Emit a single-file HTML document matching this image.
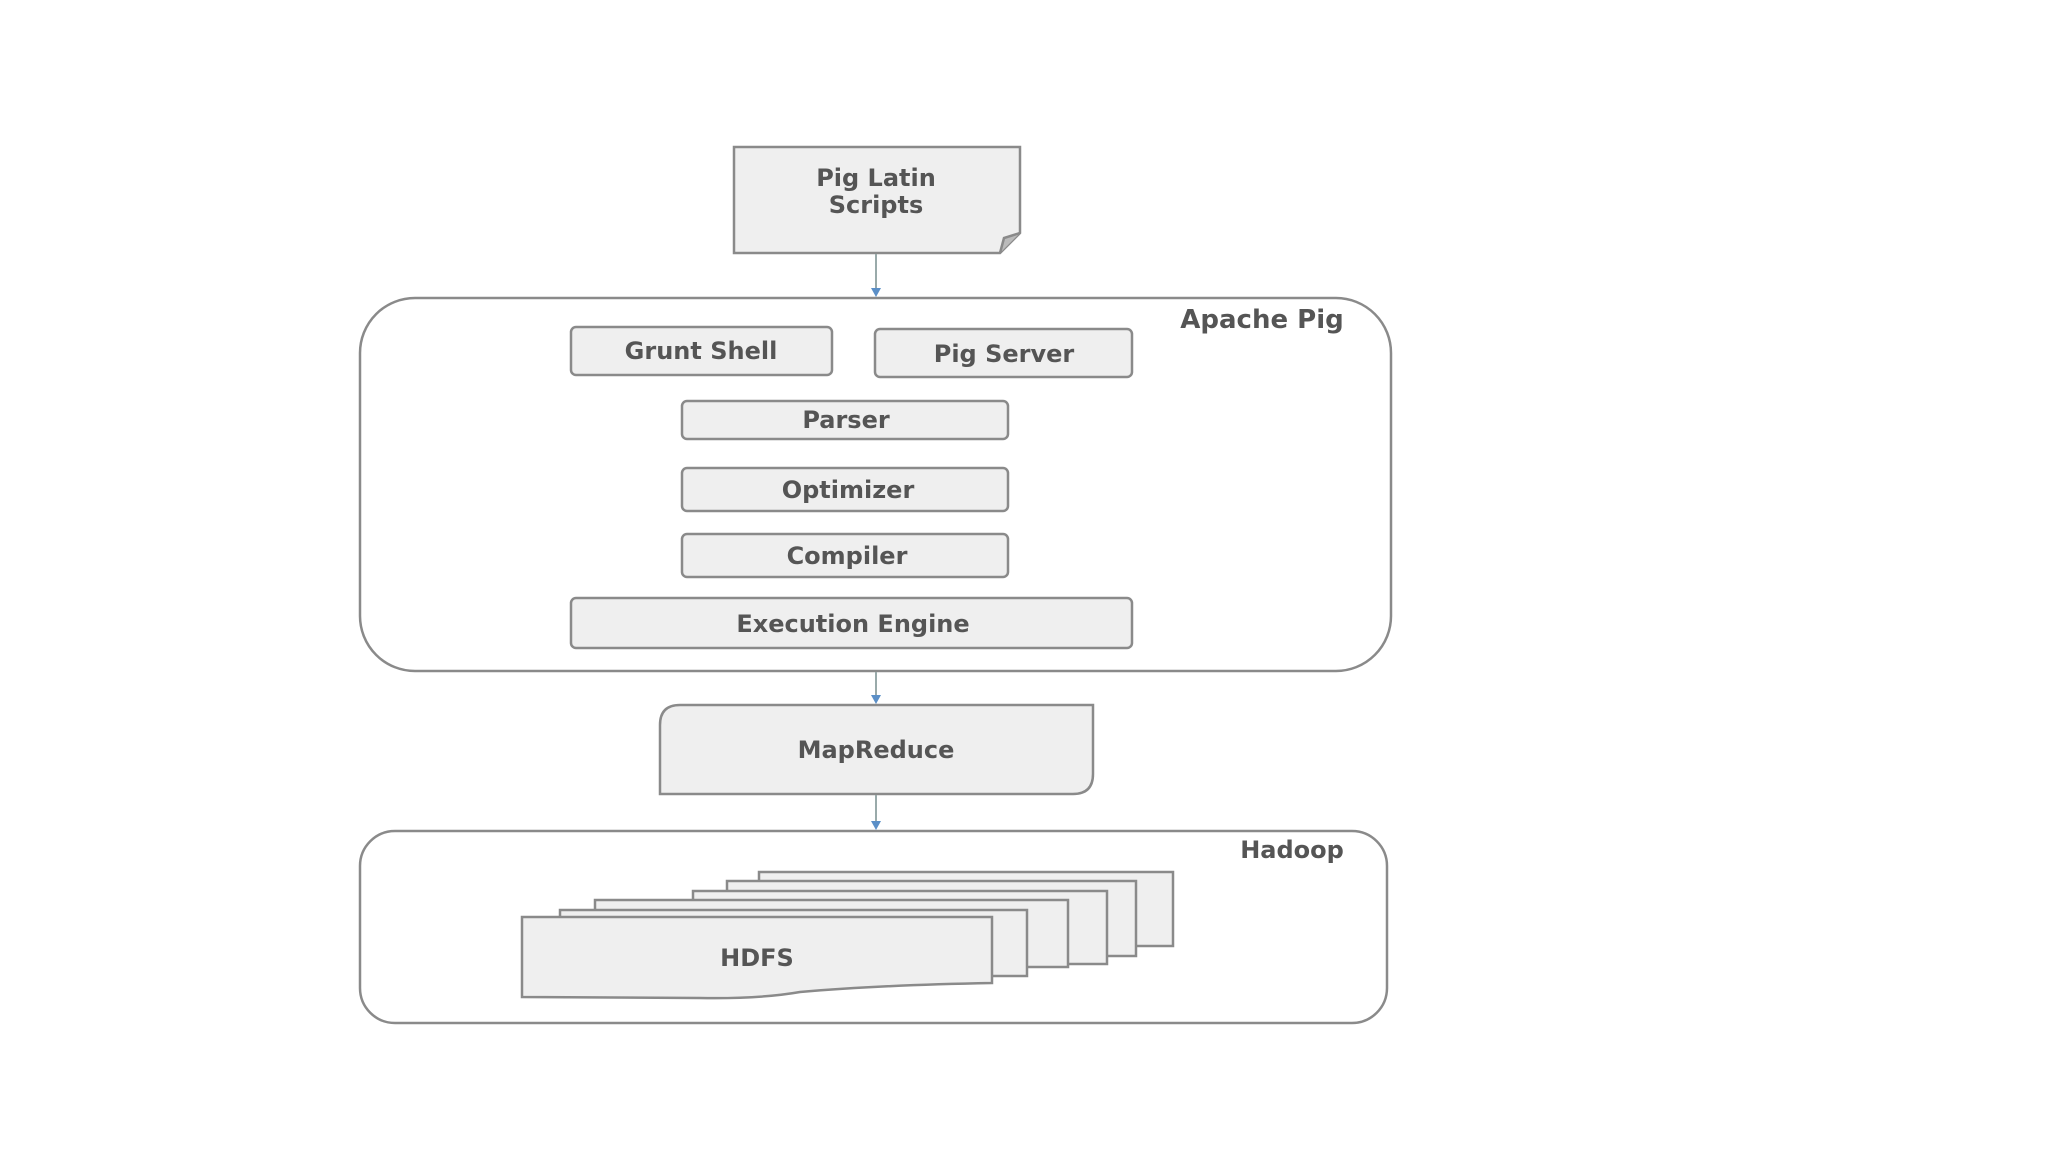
<!DOCTYPE html>
<html><head><style>
html,body{margin:0;padding:0;background:#fff;width:2048px;height:1152px;overflow:hidden}
text{font-family:"DejaVu Sans","Liberation Sans",sans-serif;font-weight:bold;fill:#555}
</style></head><body>
<svg width="2048" height="1152" viewBox="0 0 2048 1152">
<g stroke="#8a8a8a" stroke-width="2.5" fill="#efefef">
<path d="M734,147 L1020,147 L1020,233 L1000,253 L734,253 Z"/>
<path d="M1000,253 L1004,238 L1020,233" fill="#bbb"/>
<rect x="360" y="298" width="1031" height="373" rx="55" fill="#fff"/>
<rect x="571" y="327" width="261" height="48" rx="5"/>
<rect x="875" y="329" width="257" height="48" rx="5"/>
<rect x="682" y="401" width="326" height="38" rx="5"/>
<rect x="682" y="468" width="326" height="43" rx="5"/>
<rect x="682" y="534" width="326" height="43" rx="5"/>
<rect x="571" y="598" width="561" height="50" rx="5"/>
<path d="M680,705 L1093,705 L1093,774 Q1093,794 1073,794 L660,794 L660,725 Q660,705 680,705Z"/>
<rect x="360" y="831" width="1027" height="192" rx="35" fill="#fff"/>
<rect x="759" y="872" width="414" height="74"/>
<rect x="727" y="881" width="409" height="75"/>
<rect x="693" y="891" width="414" height="73"/>
<rect x="595" y="900" width="473" height="67"/>
<rect x="560" y="910" width="467" height="66"/>
<path d="M522,917 L992,917 L992,983 Q880,985 800,992 Q760,999 700,998 L522,997 Z"/>
</g>
<g stroke="#9aa" stroke-width="2" fill="none">
<line x1="876" y1="254" x2="876" y2="290"/>
<line x1="876" y1="672" x2="876" y2="697"/>
<line x1="876" y1="795" x2="876" y2="823"/>
</g>
<g fill="#5b8fc7">
<path d="M871,288 L881,288 L876,297Z"/>
<path d="M871,695 L881,695 L876,704Z"/>
<path d="M871,821 L881,821 L876,830Z"/>
</g>
<g font-size="24" text-anchor="middle">
<text x="876" y="186">Pig Latin</text>
<text x="876" y="213">Scripts</text>
<text x="701" y="359">Grunt Shell</text>
<text x="1004" y="362">Pig Server</text>
<text x="846" y="428">Parser</text>
<text x="848" y="498">Optimizer</text>
<text x="847" y="564">Compiler</text>
<text x="853" y="632">Execution Engine</text>
<text x="876" y="758">MapReduce</text>
<text x="757" y="966">HDFS</text>
<text x="1262" y="328" font-size="26">Apache Pig</text>
<text x="1292" y="858">Hadoop</text>
</g>
</svg>
</body></html>
